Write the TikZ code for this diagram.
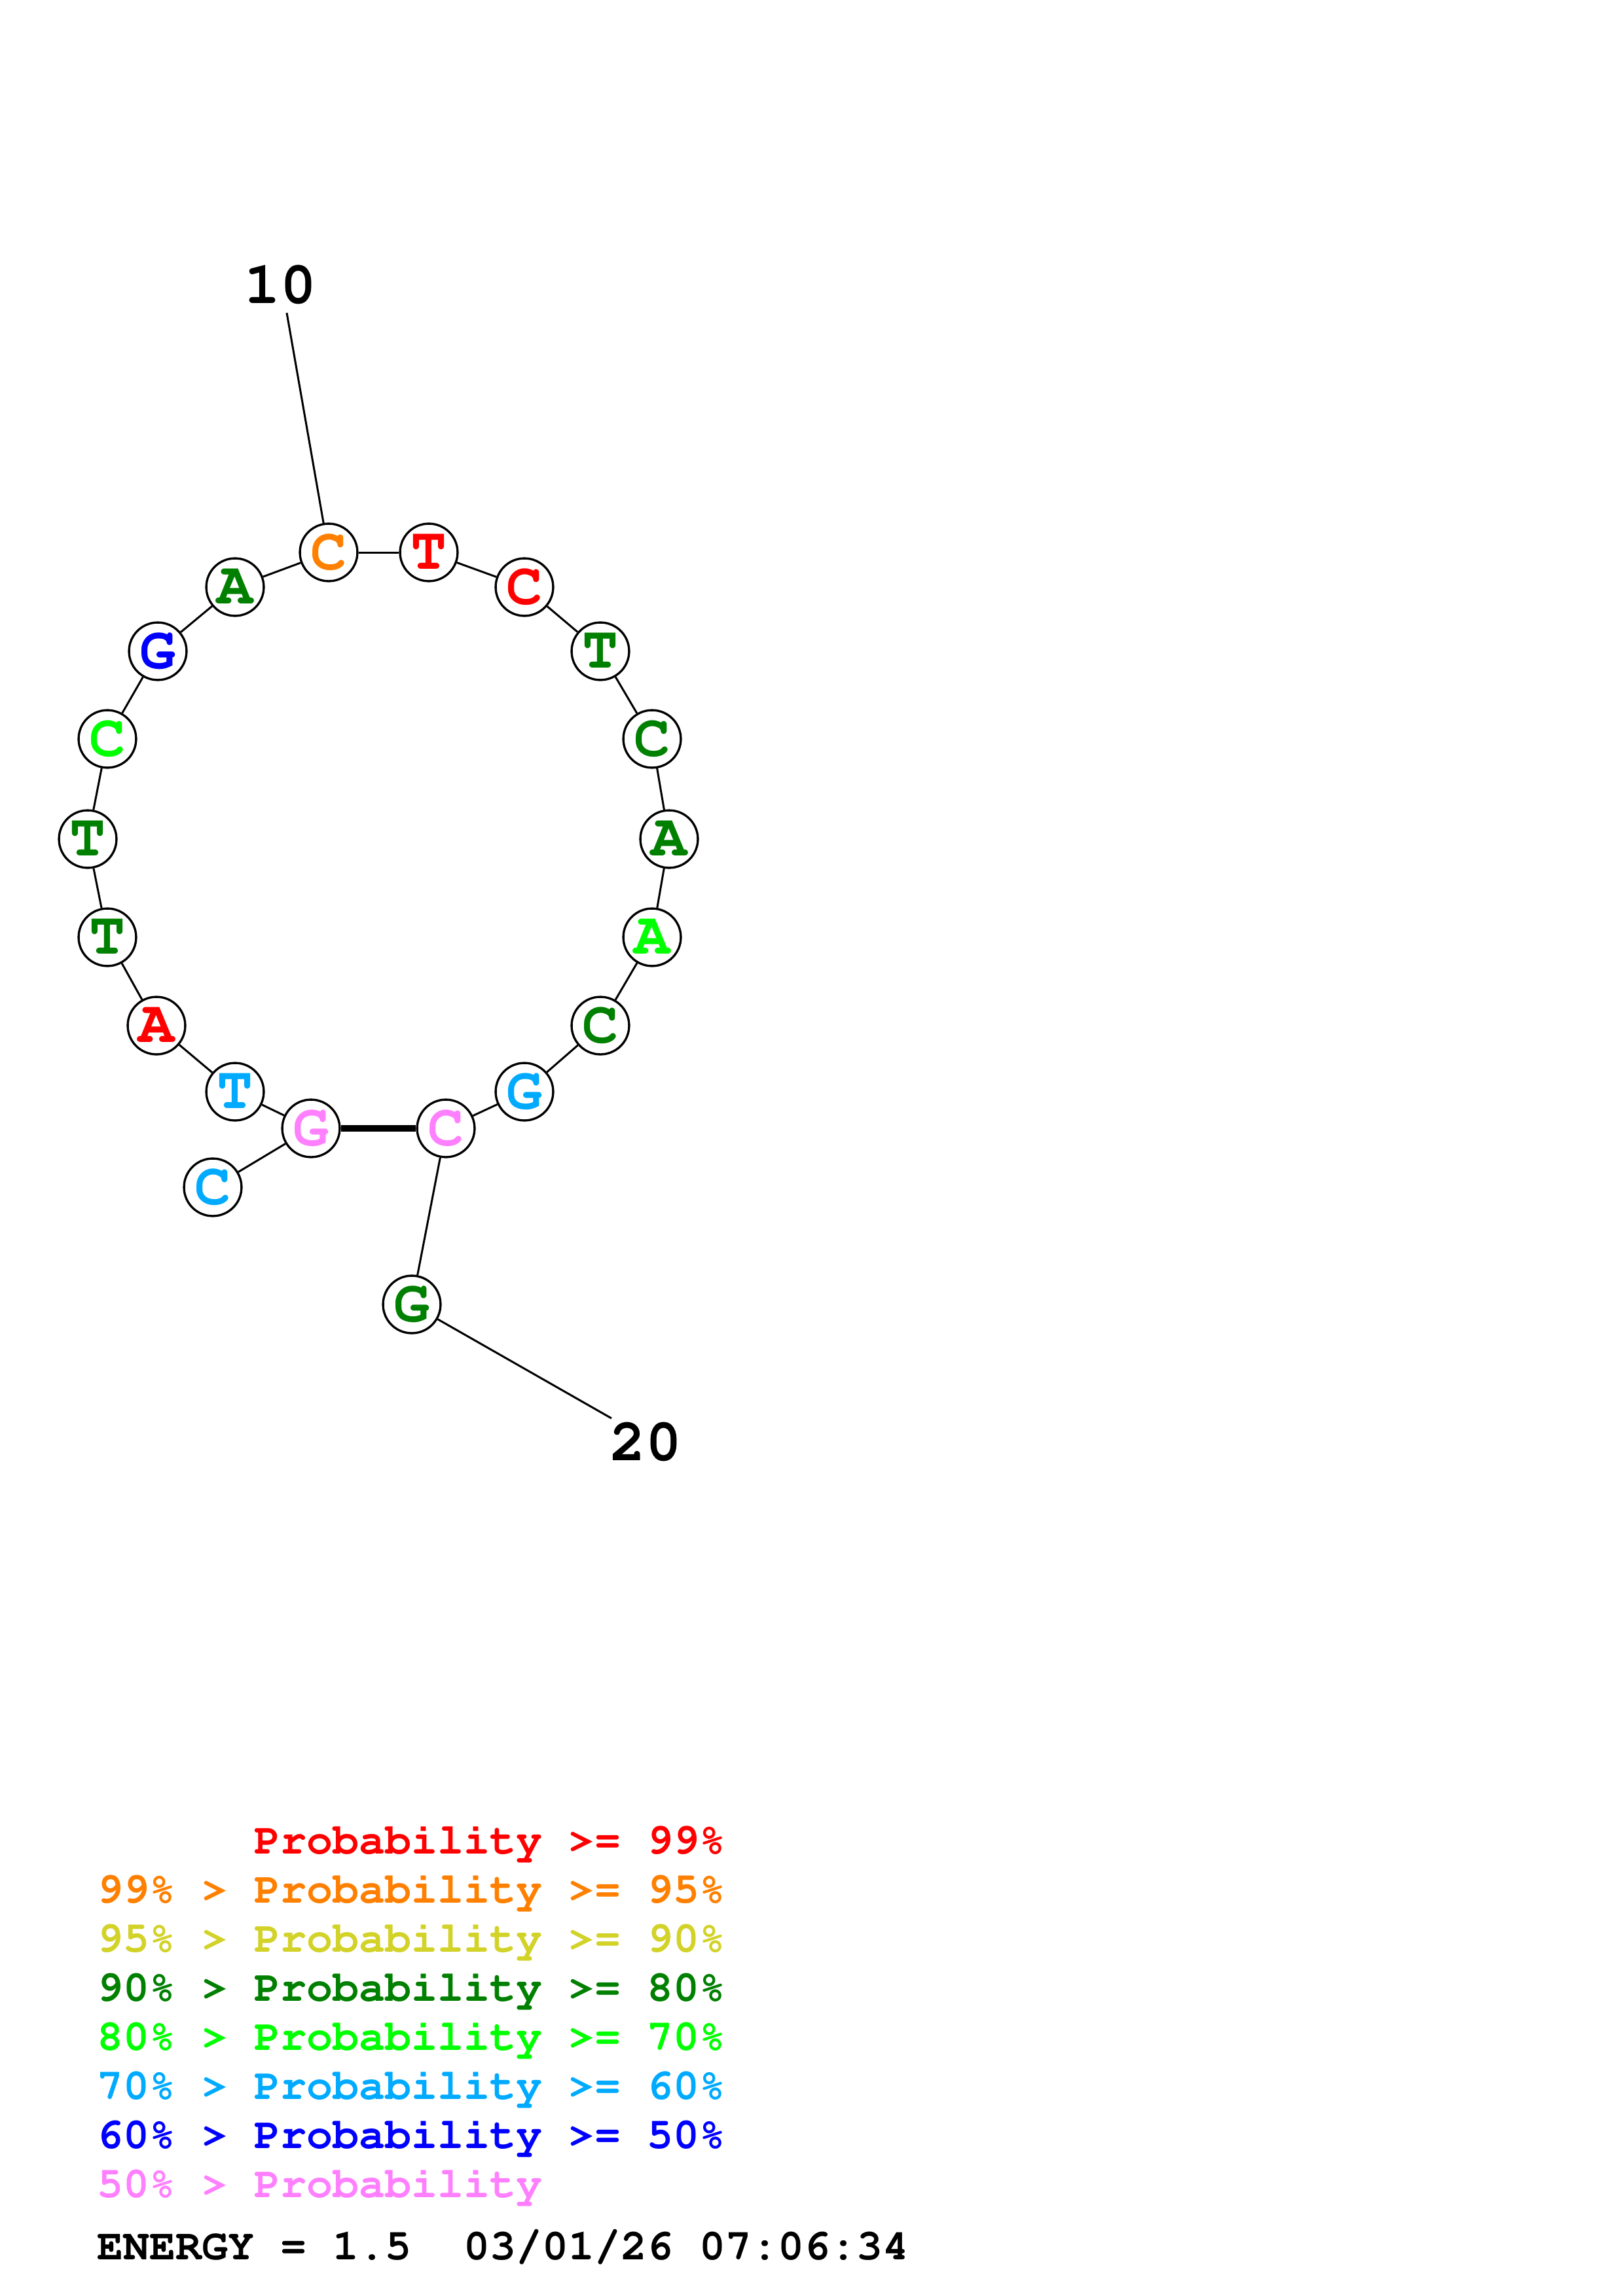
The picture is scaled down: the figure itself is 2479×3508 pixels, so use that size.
\documentclass[tikz,border=0pt]{standalone}
\usepackage[T1]{fontenc}
\usepackage{courier}
\newcommand\rnafont{\fontfamily{pcr}\fontseries{b}\fontsize{22}{26}\selectfont}
\newcommand\legfont{\fontfamily{pcr}\fontseries{b}\fontsize{16}{19}\selectfont}
\definecolor{pred}{RGB}{255,0,0}
\definecolor{porange}{RGB}{255,128,0}
\definecolor{pyellow}{RGB}{210,210,40}
\definecolor{pdkgreen}{RGB}{0,128,0}
\definecolor{plime}{RGB}{0,255,0}
\definecolor{psky}{RGB}{0,170,255}
\definecolor{pblue}{RGB}{0,0,255}
\definecolor{ppink}{RGB}{255,128,255}
\tikzset{
  base/.style={circle, draw, line width=0.8pt, minimum size=21.1pt, inner sep=0pt, fill=white, font=\rnafont},
  bb/.style={line width=0.72pt},
  pairbond/.style={line width=2.4pt},
  numlabel/.style={inner sep=0pt, font=\rnafont},
  legend/.style={anchor=base west, inner sep=0pt, font=\legfont}
}
\begin{document}
\begin{tikzpicture}[x=0.24013pt,y=-0.24013pt]
\fill[white] (0,0) rectangle (2479,3508);
\useasboundingbox (0,0) rectangle (2479,3508);
% bases
\node[base, text=psky]     (n1)  at (325,1814) {C};
\node[base, text=ppink]    (n2)  at (475,1724) {G};
\node[base, text=psky]     (n3)  at (359,1668) {T};
\node[base, text=pred]     (n4)  at (239,1567) {A};
\node[base, text=pdkgreen] (n5)  at (164,1432) {T};
\node[base, text=pdkgreen] (n6)  at (134,1282) {T};
\node[base, text=plime]    (n7)  at (164,1129) {C};
\node[base, text=pblue]    (n8)  at (241,995)  {G};
\node[base, text=pdkgreen] (n9)  at (359,897)  {A};
\node[base, text=porange]  (n10) at (502,844)  {C};
\node[base, text=pred]     (n11) at (655,844)  {T};
\node[base, text=pred]     (n12) at (801,897)  {C};
\node[base, text=pdkgreen] (n13) at (917,995)  {T};
\node[base, text=pdkgreen] (n14) at (996,1129) {C};
\node[base, text=pdkgreen] (n15) at (1022,1282) {A};
\node[base, text=plime]    (n16) at (996,1432) {A};
\node[base, text=pdkgreen] (n17) at (917,1567) {C};
\node[base, text=psky]     (n18) at (801,1668) {G};
\node[base, text=ppink]    (n19) at (681,1724) {C};
\node[base, text=pdkgreen] (n20) at (629,1993) {G};
% backbone
\draw[bb] (n1)--(n2);
\draw[bb] (n2)--(n3);
\draw[bb] (n3)--(n4);
\draw[bb] (n4)--(n5);
\draw[bb] (n5)--(n6);
\draw[bb] (n6)--(n7);
\draw[bb] (n7)--(n8);
\draw[bb] (n8)--(n9);
\draw[bb] (n9)--(n10);
\draw[bb] (n10)--(n11);
\draw[bb] (n11)--(n12);
\draw[bb] (n12)--(n13);
\draw[bb] (n13)--(n14);
\draw[bb] (n14)--(n15);
\draw[bb] (n15)--(n16);
\draw[bb] (n16)--(n17);
\draw[bb] (n17)--(n18);
\draw[bb] (n18)--(n19);
\draw[bb] (n19)--(n20);
% pair
\draw[pairbond] (n2)--(n19);
% numbering
\node[numlabel] (t10) at (428,436) {10};
\coordinate (l10) at (438,478);
\draw[bb] (n10)--(l10);
\node[numlabel] (t20) at (986,2203) {20};
\coordinate (l20) at (934,2167);
\draw[bb] (n20)--(l20);
% legend
\node[legend, text=pred]     (g1) at (148,2832) {\hphantom{99\%~>~}Probability~>=~99\%};
\node[legend, text=porange]  (g2) at (148,2907) {99\%~>~Probability~>=~95\%};
\node[legend, text=pyellow]  (g3) at (148,2982) {95\%~>~Probability~>=~90\%};
\node[legend, text=pdkgreen] (g4) at (148,3057) {90\%~>~Probability~>=~80\%};
\node[legend, text=plime]    (g5) at (148,3132) {80\%~>~Probability~>=~70\%};
\node[legend, text=psky]     (g6) at (148,3207) {70\%~>~Probability~>=~60\%};
\node[legend, text=pblue]    (g7) at (148,3282) {60\%~>~Probability~>=~50\%};
\node[legend, text=ppink]    (g8) at (148,3357) {50\%~>~Probability};
\node[legend, text=black]    (g9) at (148,3452) {ENERGY~=~1.5~~03/01/26~07:06:34};
\end{tikzpicture}
\end{document}
